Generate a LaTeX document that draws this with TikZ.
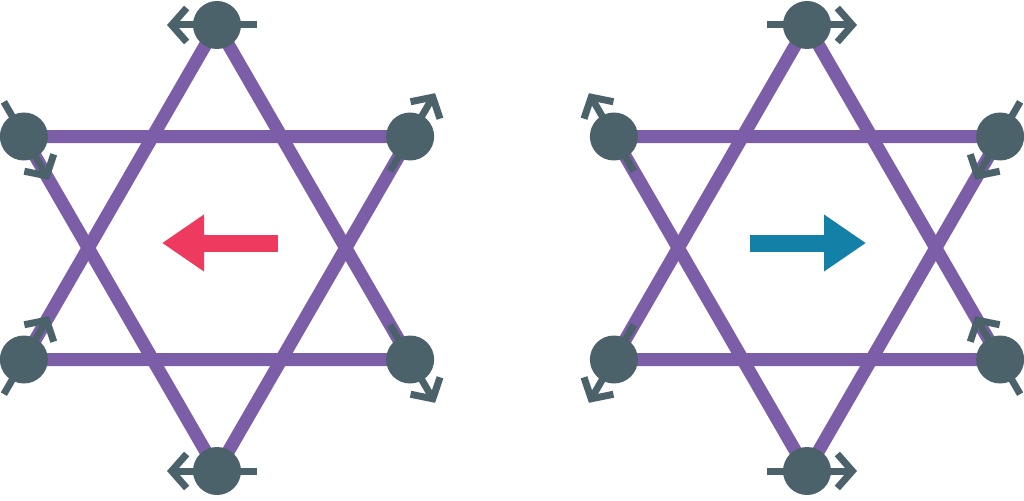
\documentclass[tikz,border=0pt]{standalone}
\usetikzlibrary{calc,arrows.meta,positioning}
\definecolor{bond}{HTML}{7B5EA7}
\definecolor{site}{HTML}{4C626B}
\definecolor{leftred}{HTML}{EE3A5E}
\definecolor{rightblue}{HTML}{1380A8}
\begin{document}
\begin{tikzpicture}[x=1pt,y=-1pt]

\tikzset{sitenode/.style={shape=circle,fill=site,inner sep=0pt,minimum size=48pt},
bondline/.style={bond,line width=13pt,line join=round},
spin/.style={site,line width=7pt,-{Straight Barb[length=15pt,width=34pt,line width=7pt]}},
bigarrow/.style={line width=17pt,-{Triangle[length=42pt,width=54pt]}}}

\useasboundingbox (0,0) rectangle (1024,500);

% Left star
\coordinate (lc) at (217,248);
\foreach \n/\a in {t/90,ur/30,lr/-30,b/-90,ll/-150,ul/150}
  \coordinate (l\n) at ($(lc)+({223*cos(\a)},{-223*sin(\a)})$);
\draw[bondline] (lt) -- (llr) -- (lll) -- cycle;
\draw[bondline] (lb) -- (lur) -- (lul) -- cycle;
\foreach \n in {t,ur,lr,b,ll,ul} \node[sitenode] (L\n) at (l\n) {};
\foreach \n/\s in {t/180,b/180,ul/60,ur/-60,ll/-60,lr/60}
  \draw[spin] ($(L\n)+(\s+180:40)$) -- ($(L\n)+(\s:50)$);
\draw[bigarrow,leftred] (278,243) -- (162,243);

% Right star
\coordinate (rc) at (807,248);
\foreach \n/\a in {t/90,ur/30,lr/-30,b/-90,ll/-150,ul/150}
  \coordinate (r\n) at ($(rc)+({223*cos(\a)},{-223*sin(\a)})$);
\draw[bondline] (rt) -- (rlr) -- (rll) -- cycle;
\draw[bondline] (rb) -- (rur) -- (rul) -- cycle;
\foreach \n in {t,ur,lr,b,ll,ul} \node[sitenode] (R\n) at (r\n) {};
\foreach \n/\s in {t/0,b/0,ul/-120,ur/120,ll/120,lr/-120}
  \draw[spin] ($(R\n)+(\s+180:40)$) -- ($(R\n)+(\s:50)$);
\draw[bigarrow,rightblue] (750,243) -- (866,243);

\end{tikzpicture}
\end{document}
